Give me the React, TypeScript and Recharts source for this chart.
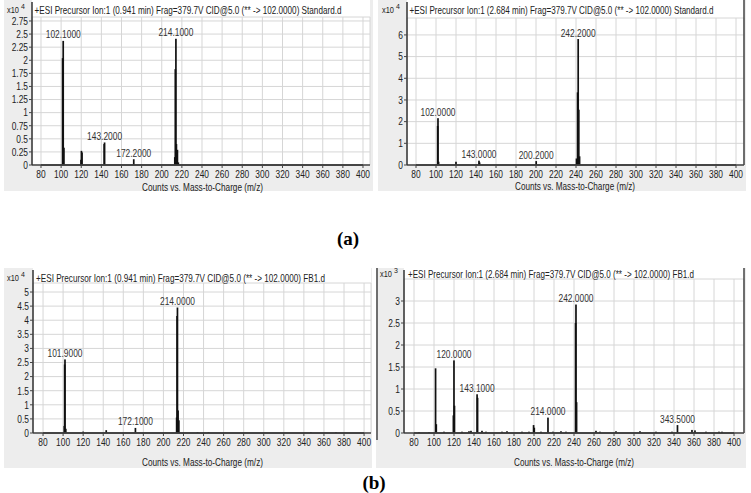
import React from "react";
import { ComposedChart, Bar, Scatter, XAxis, YAxis, CartesianGrid, ReferenceLine } from "recharts";

// ---------- shared axis data ----------
const massTicks = [80, 100, 120, 140, 160, 180, 200, 220, 240, 260, 280, 300, 320, 340, 360, 380, 400];
const scanRange = [80, 400];

// ---------- (a) left: Standard.d, 0.941 min, x10^4 ----------
const stdEarlyMz = [101.5, 102.1, 102.8, 119.8, 120.2, 120.8, 142.8, 143.2, 172.2, 213.0, 213.5, 214.1, 214.6, 215.6, 216.5];
const stdEarlyCounts = [2.04, 2.37, 0.33, 0.1, 0.27, 0.24, 0.4, 0.43, 0.11, 0.15, 1.83, 2.41, 0.4, 0.29, 0.05];
const stdEarlyLabels = ["", "102.1000", "", "", "", "", "", "143.2000", "172.2000", "", "", "214.1000", "", "", ""];
const stdEarlyTicks = [0, 0.25, 0.5, 0.75, 1, 1.25, 1.5, 1.75, 2, 2.25, 2.5, 2.75];

// ---------- (a) right: Standard.d, 2.684 min, x10^4 ----------
const stdLateMz = [101.7, 102.0, 102.6, 120.0, 143.0, 143.6, 200.2, 240.5, 241.6, 242.2, 242.8, 243.6];
const stdLateCounts = [1.8, 2.16, 0.15, 0.15, 0.2, 0.12, 0.18, 0.3, 3.35, 5.81, 2.55, 0.4];
const stdLateLabels = ["", "102.0000", "", "", "143.0000", "", "200.2000", "", "", "242.2000", "", ""];
const stdLateTicks = [0, 1, 2, 3, 4, 5, 6];

// ---------- (b) left: FB1.d, 0.941 min, x10^4 ----------
const fbEarlyMz = [101.2, 101.6, 101.9, 102.7, 120.0, 143.0, 172.1, 213.2, 213.6, 214.0, 214.6, 215.4, 234.0, 245.0, 347.0, 372.0];
const fbEarlyCounts = [0.25, 2.43, 2.61, 0.15, 0.05, 0.1, 0.18, 0.55, 4.15, 4.45, 0.8, 0.45, 0.03, 0.03, 0.03, 0.03];
const fbEarlyLabels = ["", "", "101.9000", "", "", "", "172.1000", "", "", "214.0000", "", "", "", "", "", ""];
const fbEarlyTicks = [0, 0.5, 1, 1.5, 2, 2.5, 3, 3.5, 4, 4.5, 5];

// ---------- (b) right: FB1.d, 2.684 min, x10^3 ----------
const fbLateMz = [85, 95, 101.6, 102.3, 110, 119.4, 120.0, 120.5, 128, 135, 137, 143.1, 143.6, 148, 152, 168, 173, 188, 195, 199.6, 200.3, 207, 214.0, 219, 227, 232, 241.6, 242.0, 242.6, 262, 266, 282, 306, 322, 338, 343.5, 358, 361, 372, 385, 388];
const fbLateCounts = [0.02, 0.02, 1.47, 0.2, 0.03, 0.4, 1.65, 0.62, 0.03, 0.04, 0.05, 0.88, 0.8, 0.05, 0.03, 0.03, 0.04, 0.03, 0.03, 0.18, 0.12, 0.03, 0.35, 0.03, 0.04, 0.03, 2.5, 2.92, 0.7, 0.05, 0.03, 0.04, 0.04, 0.03, 0.03, 0.18, 0.07, 0.06, 0.03, 0.03, 0.03];
const fbLateLabels = ["", "", "", "", "", "", "120.0000", "", "", "", "", "143.1000", "", "", "", "", "", "", "", "", "", "", "214.0000", "", "", "", "", "242.0000", "", "", "", "", "", "", "", "343.5000", "", "", "", "", ""];
const fbLateTicks = [0, 0.5, 1, 1.5, 2, 2.5, 3];

const FONT = '"Liberation Sans", Arial, Helvetica, sans-serif';
const SQ = 0.8; // horizontal squeeze of the instrument font

function XTick(props: any) {
  const { x, y, payload } = props;
  return (
    <g transform={`translate(${x},${y})`}>
      <text transform={`scale(${SQ},1)`} textAnchor="middle" dy="0.71em" fontSize={10.5} fill="#222" fontFamily={FONT}>
        {payload.value}
      </text>
    </g>
  );
}

function YTick(props: any) {
  const { x, y, payload } = props;
  return (
    <g transform={`translate(${x},${y})`}>
      <text transform={`scale(${SQ},1)`} textAnchor="end" dy="0.36em" fontSize={10.5} fill="#222" fontFamily={FONT}>
        {payload.value}
      </text>
    </g>
  );
}

function Stick(props: any) {
  const { x, y, width, height } = props;
  if (x == null || y == null || isNaN(x) || isNaN(y)) return null;
  const w = isNaN(width) || width == null ? 0 : width;
  const h = isNaN(height) || height == null ? 0 : height;
  const cx = x + w / 2;
  return <rect x={cx - 0.85} y={Math.min(y, y + h)} width={1.7} height={Math.abs(h)} fill="#111" />;
}

function PeakTag(props: any) {
  const { cx, cy, payload } = props;
  if (!payload || !payload.label) return null;
  return (
    <g transform={`translate(${cx},${cy - 2.5})`}>
      <text transform={`scale(${SQ},1)`} textAnchor="middle" fontSize={10.5} fill="#333" fontFamily={FONT}>
        {payload.label}
      </text>
    </g>
  );
}

type Box = { left: number; top: number; right: number; bottom: number };

function Panel(p: {
  box: Box;
  plot: Box;
  xDomain: number[];
  yDomain: number[];
  yTicks: number[];
  mz: number[];
  counts: number[];
  labels: string[];
}) {
  const { box, plot } = p;
  const W = box.right - box.left;
  const H = box.bottom - box.top;
  const rows = p.mz.map((m, i) => ({ mz: m, counts: p.counts[i], label: p.labels[i] }));
  const tagged = rows.filter((r) => r.label);
  return (
    <div style={{ position: "absolute", left: box.left, top: box.top, width: W, height: H, background: "#ededed" }}>
      <div
        style={{
          position: "absolute",
          left: plot.left - box.left,
          top: 0,
          width: plot.right - plot.left,
          height: plot.bottom - box.top,
          background: "#ffffff",
        }}
      />
      <div style={{ position: "absolute", left: 0, top: 0 }}>
        <ComposedChart
          width={W}
          height={H}
          data={rows}
          margin={{ top: plot.top - box.top, right: box.right - plot.right, left: 0, bottom: 0 }}
        >
          <CartesianGrid stroke="#d6d6d6" strokeWidth={1} />
          <XAxis
            type="number"
            dataKey="mz"
            domain={p.xDomain}
            ticks={massTicks}
            interval={0}
            allowDataOverflow
            height={box.bottom - plot.bottom}
            tickSize={3}
            tickMargin={3}
            axisLine={{ stroke: "#444", strokeWidth: 1.5 }}
            tickLine={{ stroke: "#444" }}
            tick={<XTick />}
          />
          <YAxis
            type="number"
            domain={p.yDomain}
            ticks={p.yTicks}
            interval={0}
            allowDataOverflow
            width={plot.left - box.left}
            tickSize={3}
            tickMargin={1}
            axisLine={{ stroke: "#333", strokeWidth: 1.5 }}
            tickLine={{ stroke: "#444" }}
            tick={<YTick />}
          />
          <ReferenceLine
            segment={[
              { x: scanRange[0], y: 0 },
              { x: scanRange[1], y: 0 },
            ]}
            stroke="#111"
            strokeWidth={1.5}
          />
          <Bar dataKey="counts" barSize={2} shape={<Stick />} isAnimationActive={false} />
          <Scatter data={tagged} dataKey="counts" shape={<PeakTag />} isAnimationActive={false} />
        </ComposedChart>
      </div>
    </div>
  );
}

const P1 = { box: { left: 4, top: 0, right: 373, bottom: 191 }, plot: { left: 32, top: 17, right: 370, bottom: 165 } };
const P2 = { box: { left: 378, top: 0, right: 746, bottom: 191 }, plot: { left: 407, top: 18, right: 744, bottom: 165 } };
const P3 = { box: { left: 4, top: 268, right: 372, bottom: 468 }, plot: { left: 33, top: 283, right: 371, bottom: 433 } };
const P4 = { box: { left: 376, top: 268, right: 746, bottom: 468 }, plot: { left: 404, top: 279, right: 744, bottom: 433 } };

// squeezed text: rendered width = w
function Squeezed(props: { x: number; y: number; w: number; t: string; size: number; s: number }) {
  return (
    <g transform={`translate(${props.x},${props.y}) scale(${props.s},1)`}>
      <text x={0} y={0} fontSize={props.size} fill="#222" fontFamily={FONT} textLength={props.w / props.s} lengthAdjust="spacingAndGlyphs">
        {props.t}
      </text>
    </g>
  );
}

function Exp(props: { x: number; y: number; e: string }) {
  return (
    <g>
      <Squeezed x={props.x} y={props.y} w={12} t="x10" size={9.5} s={0.8} />
      <text x={props.x + 14} y={props.y - 4} fontSize={7} fill="#222" fontFamily={FONT}>
        {props.e}
      </text>
    </g>
  );
}

const xLabel = "Counts vs. Mass-to-Charge (m/z)";

export default function App() {
  return (
    <div style={{ position: "absolute", left: 0, top: 0, width: 751, height: 493, background: "#fff", overflow: "hidden" }}>
      <Panel {...P1} xDomain={[71.06, 406.96]} yDomain={[0, 2.826]} yTicks={stdEarlyTicks} mz={stdEarlyMz} counts={stdEarlyCounts} labels={stdEarlyLabels} />
      <Panel {...P2} xDomain={[71, 408]} yDomain={[0, 6.78]} yTicks={stdLateTicks} mz={stdLateMz} counts={stdLateCounts} labels={stdLateLabels} />
      <Panel {...P3} xDomain={[70, 406.9]} yDomain={[0, 5.32]} yTicks={fbEarlyTicks} mz={fbEarlyMz} counts={fbEarlyCounts} labels={fbEarlyLabels} />
      <Panel {...P4} xDomain={[70, 410]} yDomain={[0, 3.5]} yTicks={fbLateTicks} mz={fbLateMz} counts={fbLateCounts} labels={fbLateLabels} />
      <svg width={751} height={493} style={{ position: "absolute", left: 0, top: 0, pointerEvents: "none" }}>
        {/* y-axis extensions into title rows */}
        <line x1={32} y1={2} x2={32} y2={17} stroke="#333" strokeWidth={1.5} />
        <line x1={407} y1={2} x2={407} y2={18} stroke="#333" strokeWidth={1.5} />
        <line x1={33} y1={270} x2={33} y2={283} stroke="#333" strokeWidth={1.5} />
        <line x1={404} y1={270} x2={404} y2={279} stroke="#333" strokeWidth={1.5} />
        {/* dark frames */}
        <line x1={744} y1={0} x2={744} y2={165} stroke="#444" strokeWidth={1.5} />
        <line x1={744} y1={268} x2={744} y2={433} stroke="#444" strokeWidth={1.5} />
        <line x1={377} y1={268} x2={377} y2={440} stroke="#444" strokeWidth={1.5} />

        <Exp x={7} y={13} e="4" />
        <Exp x={382} y={13} e="4" />
        <Exp x={7} y={281} e="4" />
        <Exp x={380} y={277} e="3" />

        <Squeezed x={34.5} y={13.5} w={307} s={0.76} size={10} t="+ESI Precursor Ion:1 (0.941 min) Frag=379.7V CID@5.0 (** -> 102.0000) Standard.d" />
        <Squeezed x={409.5} y={13.5} w={304} s={0.75} size={10} t="+ESI Precursor Ion:1 (2.684 min) Frag=379.7V CID@5.0 (** -> 102.0000) Standard.d" />
        <Squeezed x={36} y={281.5} w={289} s={0.76} size={10} t="+ESI Precursor Ion:1 (0.941 min) Frag=379.7V CID@5.0 (** -> 102.0000) FB1.d" />
        <Squeezed x={408} y={277.5} w={286} s={0.75} size={10} t="+ESI Precursor Ion:1 (2.684 min) Frag=379.7V CID@5.0 (** -> 102.0000) FB1.d" />

        <Squeezed x={142} y={190.5} w={121} s={0.78} size={10} t={xLabel} />
        <Squeezed x={515} y={190} w={120} s={0.78} size={10} t={xLabel} />
        <Squeezed x={142} y={465.5} w={121} s={0.78} size={10} t={xLabel} />
        <Squeezed x={514} y={465.5} w={120} s={0.78} size={10} t={xLabel} />

        <text x={348} y={245} textAnchor="middle" fontSize={19} fontWeight="bold" fontFamily='"Liberation Serif", "Times New Roman", serif' fill="#000">(a)</text>
        <text x={374} y={489} textAnchor="middle" fontSize={19} fontWeight="bold" fontFamily='"Liberation Serif", "Times New Roman", serif' fill="#000">(b)</text>
      </svg>
    </div>
  );
}
